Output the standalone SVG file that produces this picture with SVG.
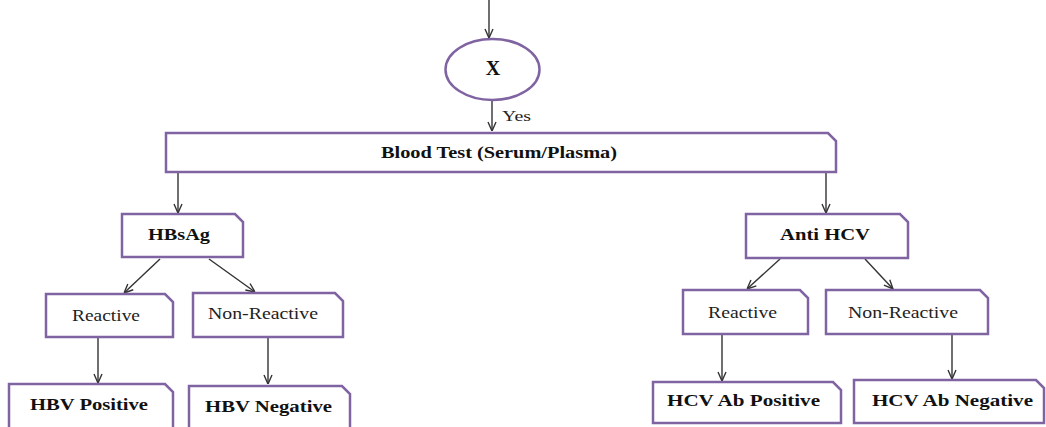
<svg xmlns="http://www.w3.org/2000/svg" width="1046" height="427" viewBox="0 0 1046 427">
<style>
.box{fill:#fff;stroke:#8064a2;stroke-width:2.5}
.b{font-family:"Liberation Serif","Times New Roman",serif;font-weight:bold;font-size:16px;fill:#111}
.r{font-family:"Liberation Serif","Times New Roman",serif;font-size:16px;fill:#222}
.c{stroke:#333;stroke-width:1.4;fill:none;marker-end:url(#ah)}
</style>
<defs>
<marker id="ah" viewBox="0 0 10 10" refX="10" refY="5" markerWidth="10" markerHeight="10" markerUnits="userSpaceOnUse" orient="auto">
<path d="M1,1 L10,5 L1,9" fill="none" stroke="#333" stroke-width="1.4"/>
</marker>
</defs>
<rect width="1046" height="427" fill="#fff"/>
<g id="connectors">
<line class="c" x1="489" y1="0" x2="489" y2="38"/>
<line class="c" x1="492" y1="101" x2="492" y2="131"/>
<line class="c" x1="178" y1="173" x2="178" y2="213"/>
<line class="c" x1="826" y1="173" x2="826" y2="213"/>
<line class="c" x1="160" y1="259" x2="124" y2="293"/>
<line class="c" x1="209" y1="259" x2="255" y2="292"/>
<line class="c" x1="98" y1="338" x2="98" y2="383"/>
<line class="c" x1="268" y1="338" x2="268" y2="384"/>
<line class="c" x1="780" y1="259" x2="747" y2="289"/>
<line class="c" x1="865" y1="259" x2="893" y2="289"/>
<line class="c" x1="722" y1="335" x2="722" y2="381"/>
<line class="c" x1="952" y1="335" x2="952" y2="379"/>
</g>
<g id="node-x">
<ellipse class="box" cx="492.5" cy="69.5" rx="47" ry="30.5"/>
<text class="b" x="493" y="75" text-anchor="middle" font-size="20" style="font-size:20px">X</text>
</g>
<text class="r" x="502" y="121" style="font-size:14px" textLength="29" lengthAdjust="spacingAndGlyphs">Yes</text>
<g id="node-blood">
<path class="box" d="M166,133 H828 L836,141 V172 H166 Z"/>
<text class="b" x="381" y="158" textLength="236" lengthAdjust="spacingAndGlyphs">Blood Test (Serum/Plasma)</text>
</g>
<g id="node-hbsag">
<path class="box" d="M122,214 H235 L243,222 V257 H122 Z"/>
<text class="b" x="148" y="240" textLength="62" lengthAdjust="spacingAndGlyphs">HBsAg</text>
</g>
<g id="node-hb-reactive">
<path class="box" d="M46,294 H165 L173,302 V337 H46 Z"/>
<text class="r" x="72" y="321" textLength="68" lengthAdjust="spacingAndGlyphs">Reactive</text>
</g>
<g id="node-hb-nonreactive">
<path class="box" d="M193,293 H335 L343,301 V337 H193 Z"/>
<text class="r" x="208" y="319" textLength="110" lengthAdjust="spacingAndGlyphs">Non-Reactive</text>
</g>
<g id="node-hbv-positive">
<path class="box" d="M9,384 H165 L173,392 V432 H9 Z"/>
<text class="b" x="30" y="410" textLength="118" lengthAdjust="spacingAndGlyphs">HBV Positive</text>
</g>
<g id="node-hbv-negative">
<path class="box" d="M189,386 H342 L350,394 V432 H189 Z"/>
<text class="b" x="205" y="412" textLength="127" lengthAdjust="spacingAndGlyphs">HBV Negative</text>
</g>
<g id="node-antihcv">
<path class="box" d="M746,214 H900 L908,222 V258 H746 Z"/>
<text class="b" x="780" y="240" textLength="90" lengthAdjust="spacingAndGlyphs">Anti HCV</text>
</g>
<g id="node-hc-reactive">
<path class="box" d="M683,290 H800 L808,298 V334 H683 Z"/>
<text class="r" x="708" y="318" textLength="69" lengthAdjust="spacingAndGlyphs">Reactive</text>
</g>
<g id="node-hc-nonreactive">
<path class="box" d="M826,290 H980 L988,298 V334 H826 Z"/>
<text class="r" x="848" y="318" textLength="110" lengthAdjust="spacingAndGlyphs">Non-Reactive</text>
</g>
<g id="node-hcv-positive">
<path class="box" d="M653,382 H833 L841,390 V423 H653 Z"/>
<text class="b" x="667" y="406" textLength="153" lengthAdjust="spacingAndGlyphs">HCV Ab Positive</text>
</g>
<g id="node-hcv-negative">
<path class="box" d="M854,380 H1036 L1044,388 V423 H854 Z"/>
<text class="b" x="872" y="406" textLength="161" lengthAdjust="spacingAndGlyphs">HCV Ab Negative</text>
</g>
</svg>
